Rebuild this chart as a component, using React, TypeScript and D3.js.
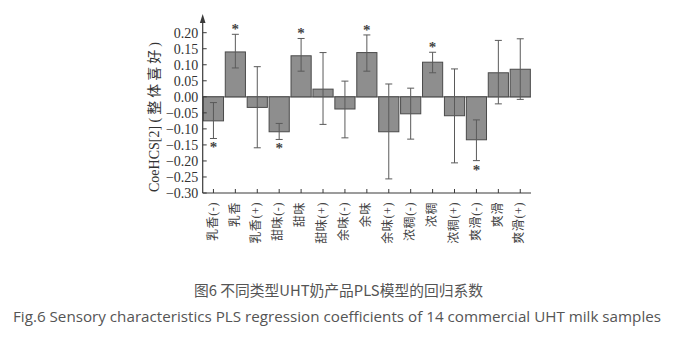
import React from "react";
import * as d3 from "d3";

const categories = ["乳香(-)", "乳香", "乳香(+)", "甜味(-)", "甜味", "甜味(+)", "余味(-)", "余味", "余味(+)", "浓稠(-)", "浓稠", "浓稠(+)", "爽滑(-)", "爽滑", "爽滑(+)"];
const values = [-0.075, 0.14, -0.033, -0.109, 0.128, 0.024, -0.038, 0.138, -0.109, -0.053, 0.108, -0.059, -0.134, 0.075, 0.086];
const errUpper = [-0.018, 0.195, 0.094, -0.083, 0.182, 0.138, 0.049, 0.193, 0.04, 0.027, 0.139, 0.087, -0.072, 0.176, 0.181];
const errLower = [-0.13, 0.09, -0.159, -0.133, 0.08, -0.086, -0.128, 0.08, -0.256, -0.132, 0.075, -0.206, -0.199, -0.022, -0.008];
const significant = [true, true, false, true, true, false, false, true, false, false, true, false, true, false, false];
const yTicks = [0.2, 0.15, 0.1, 0.05, 0, -0.05, -0.1, -0.15, -0.2, -0.25, -0.3];
const yLabelLatin = "CoeHCS[2] ";
const yLabelCn = "(整体喜好)";
const captionCn = "图6 不同类型UHT奶产品PLS模型的回归系数";
const captionEn = "Fig.6 Sensory characteristics PLS regression coefficients of 14 commercial UHT milk samples";

export default function App() {
  const W = 689, H = 340;
  const axisX = 202.7;
  const y = d3.scaleLinear().domain([-0.3, 0.2]).range([193, 32.7]);
  const x = d3.scaleBand<string>().domain(categories).range([axisX, 531]).paddingInner(0.08).paddingOuter(0.03);
  const bw = x.bandwidth();
  const serif = "'Liberation Serif', 'Times New Roman', serif";
  const cjk = "'Liberation Serif', 'Noto Sans CJK SC', serif";
  const axisColor = "#3a3a3a";
  return (
    <svg width={W} height={H} style={{ position: "absolute", left: 0, top: 0, background: "#fff" }}>
      <line x1={axisX} x2={531} y1={y(0)} y2={y(0)} stroke="#777" strokeWidth={1.2} />
      {categories.map((c, i) => {
        const v = values[i];
        const x0 = x(c)!;
        return (
          <rect key={"b" + i} x={x0} width={bw} y={Math.min(y(v), y(0))} height={Math.abs(y(v) - y(0))}
            fill="#8e8e8e" stroke="#4a4a4a" strokeWidth={1} />
        );
      })}
      {categories.map((c, i) => {
        const cx = x(c)! + bw / 2;
        const yt = y(errUpper[i]);
        const yb = y(errLower[i]);
        return (
          <g key={"e" + i} stroke="#5a5a5a" strokeWidth={1}>
            <line x1={cx} x2={cx} y1={yt} y2={yb} />
            <line x1={cx - 3.5} x2={cx + 3.5} y1={yt} y2={yt} />
            <line x1={cx - 3.5} x2={cx + 3.5} y1={yb} y2={yb} />
          </g>
        );
      })}
      {categories.map((c, i) => {
        if (!significant[i]) return null;
        const cx = x(c)! + bw / 2;
        const above = values[i] > 0;
        const cy = above ? y(errUpper[i]) - 6 : y(errLower[i]) + 8;
        return (
          <text key={"s" + i} x={cx} y={cy + 6} textAnchor="middle" fontFamily={serif} fontSize={15} fontWeight="bold" fill="#444">*</text>
        );
      })}
      <line x1={axisX} x2={axisX} y1={193} y2={20} stroke={axisColor} strokeWidth={1.2} />
      <path d={`M${axisX},14 L${axisX - 2.8},23 L${axisX + 2.8},23 Z`} fill={axisColor} />
      {yTicks.map((t, i) => (
        <g key={"yt" + i}>
          <line x1={axisX} x2={axisX + 4} y1={y(t)} y2={y(t)} stroke={axisColor} strokeWidth={1} />
          <text x={axisX - 4.4} y={y(t)} dy="0.35em" textAnchor="end" fontFamily={serif} fontSize={14} fill="#333">
            {d3.format(".2f")(t)}
          </text>
        </g>
      ))}
      <line x1={axisX} x2={531} y1={193} y2={193} stroke={axisColor} strokeWidth={1.2} />
      {categories.map((c, i) => {
        const cx = x(c)! + bw / 2;
        return (
          <g key={"xt" + i}>
            <line x1={cx} x2={cx} y1={193} y2={189} stroke={axisColor} strokeWidth={1} />
            <text transform={`translate(${cx - 1},${202}) rotate(-90)`} dy="0.35em" textAnchor="end"
              fontFamily={cjk} fontSize={12} letterSpacing={0.6} fill="#444">{c}</text>
          </g>
        );
      })}
      <text transform={`translate(154,192) rotate(-90)`} dy="0.35em" textAnchor="start" fontFamily={cjk} fontSize={14} fill="#333">
        <tspan>{yLabelLatin}</tspan>
        <tspan letterSpacing={3}>{yLabelCn}</tspan>
      </text>
      <text x={194} y={296} fontFamily="'Noto Sans CJK SC', sans-serif" fontSize={15} textLength={289} lengthAdjust="spacingAndGlyphs" fill="#555">{captionCn}</text>
      <text x={13} y={322} fontFamily="'Open Sans', sans-serif" fontSize={15} textLength={648} lengthAdjust="spacingAndGlyphs" fill="#555">{captionEn}</text>
    </svg>
  );
}
